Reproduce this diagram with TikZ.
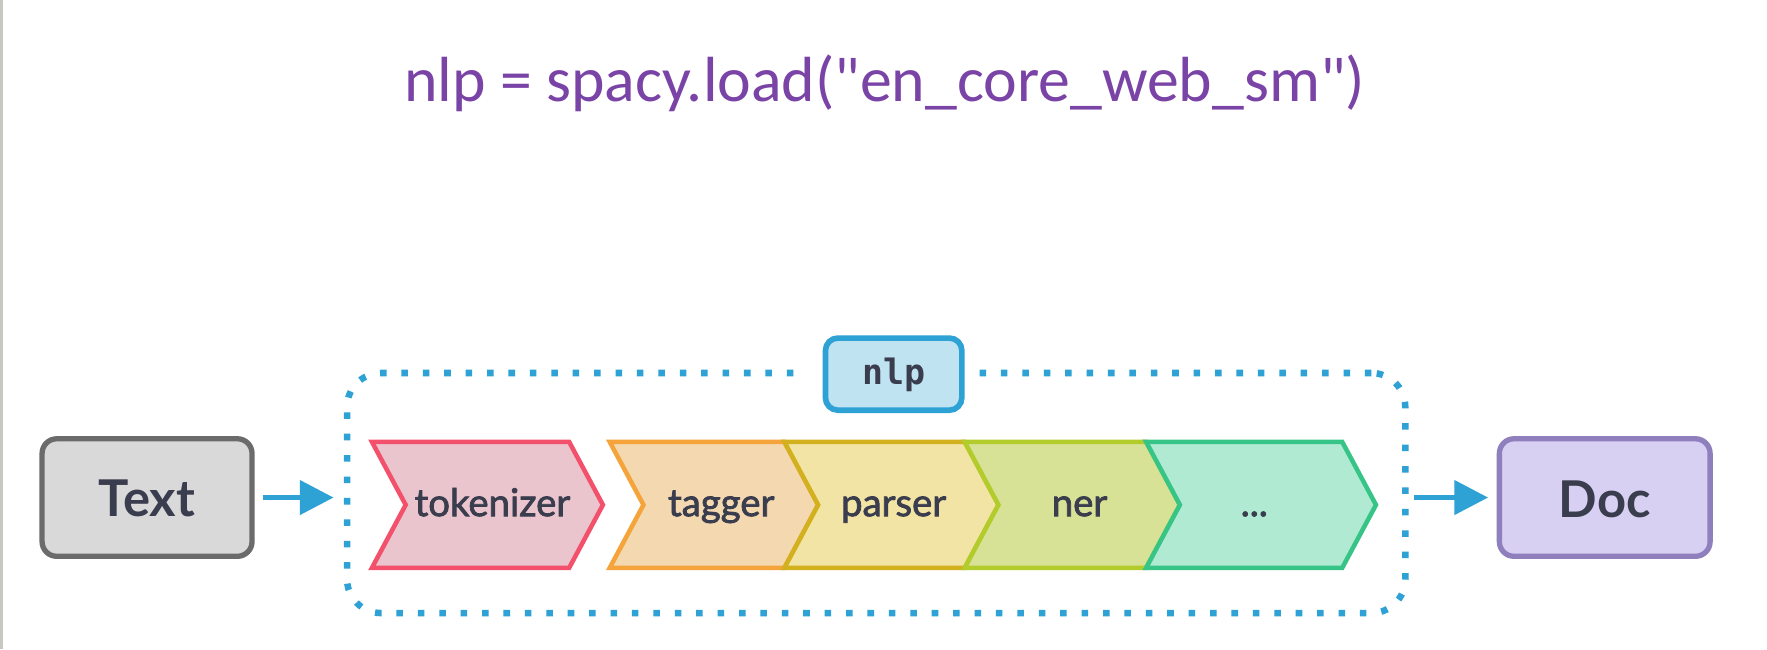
\documentclass[tikz,border=0pt]{standalone}
\usepackage{fontspec}
\setmainfont{Lato}
\newfontfamily\titlefont{Carlito}
\newfontfamily\codefont{DejaVu Sans Mono}
\newfontfamily\chevfont[FakeBold=2]{Lato}
\usetikzlibrary{arrows.meta}
\definecolor{ink}{HTML}{3A3D4D}
\definecolor{titlepurple}{HTML}{7A43A6}
\definecolor{flowblue}{HTML}{2EA1D5}
\definecolor{nlpfill}{HTML}{C0E3F2}
\definecolor{textfill}{HTML}{D9D9D9}
\definecolor{textdraw}{HTML}{6B6B6B}
\definecolor{docfill}{HTML}{D8D0F3}
\definecolor{docdraw}{HTML}{8F7FBD}
\definecolor{tokfill}{HTML}{EBC5CE}\definecolor{tokdraw}{HTML}{F2506B}
\definecolor{tagfill}{HTML}{F3D8B0}\definecolor{tagdraw}{HTML}{F4A43A}
\definecolor{parfill}{HTML}{F2E4A4}\definecolor{pardraw}{HTML}{D2B01E}
\definecolor{nerfill}{HTML}{D8E296}\definecolor{nerdraw}{HTML}{B2CC2C}
\definecolor{dotfill}{HTML}{B0EAD3}\definecolor{dotdraw}{HTML}{37C487}
\definecolor{edgegray}{HTML}{C8C8C0}
\newcommand\mychev[6]{%
  \filldraw[chevline, fill=#3, draw=#4] (#1,392) -- (#2,392) -- (#2+30,448) -- (#2,504) -- (#1,504) -- (#1+30,448) -- cycle;
  \coordinate (#5) at (#6,458);}
\tikzset{
  iobox/.style={rounded corners=13pt, line width=4.7pt, outer sep=0pt, inner sep=0pt,
    minimum height=104.3pt},
  iolabel/.style={anchor=base, inner sep=0pt, font=\fontsize{45}{45}\selectfont\bfseries, text=ink},
  chevline/.style={line width=4pt, line join=miter},
  chevlabel/.style={anchor=base, inner sep=0pt, font=\chevfont\fontsize{34}{34}\selectfont, text=ink},
  flow/.style={line width=4.7pt, draw=flowblue, -{Triangle[length=30pt,width=30pt]}},
  frame/.style={draw=flowblue, line width=5.8pt, dash pattern=on 5.8pt off 13.2pt,
    rounded corners=30pt, inner sep=0pt, outer sep=0pt, minimum width=939pt, minimum height=213pt},
}
\begin{document}
\begin{tikzpicture}[x=1pt,y=-1pt]
\useasboundingbox (0,0) rectangle (1568,576);
\fill[white] (0,0) rectangle (1568,576);
\fill[edgegray] (0,0) rectangle (2.5,576);
% title
\node[anchor=base, inner sep=0pt, font=\titlefont\fontsize{56.6}{56.6}\selectfont, text=titlepurple] (title) at (785,90) {nlp = spacy.load("en\_core\_web\_sm")};
% frame
\node[frame] (frame) at (777.5,437.5) {};
\fill[white] (714,315) rectangle (863,348);
\node[rounded corners=11pt, line width=5pt, draw=flowblue, fill=nlpfill, minimum width=121pt, minimum height=64pt, inner sep=0pt, outer sep=0pt] (nlpbox) at (793,332) {};
\node[anchor=base, inner sep=0pt, font=\codefont\bfseries\fontsize{31}{31}\selectfont, text=ink] (nlplabel) at (793,341) {nlp};
% chevrons
\mychev{330}{505}{tokfill}{tokdraw}{tok}{437}
\mychev{541}{696}{tagfill}{tagdraw}{tag}{640}
\mychev{696}{856}{parfill}{pardraw}{par}{793}
\mychev{856}{1017}{nerfill}{nerdraw}{ner}{958}
\mychev{1017}{1191}{dotfill}{dotdraw}{more}{1113}
\node[chevlabel] (toklabel) at (tok) {tokenizer};
\node[chevlabel] (taglabel) at (tag) {tagger};
\node[chevlabel] (parlabel) at (par) {parser};
\node[chevlabel] (nerlabel) at (ner) {ner};
\node[chevlabel] (morelabel) at (more) {...};
% io boxes
\node[iobox, draw=textdraw, fill=textfill, minimum width=186.3pt] (text) at (130.5,441.5) {};
\node[iolabel] (textlabel) at (130.5,458) {Text};
\node[iobox, draw=docdraw, fill=docfill, minimum width=187pt] (doc) at (1424,441.5) {};
\node[iolabel] (doclabel) at (1424,459) {Doc};
% arrows
\draw[flow, shorten <=9.4pt, shorten >=12pt] (text.east) -- (text.east -| frame.west);
\draw[flow, shorten <=8pt, shorten >=10pt] (frame.east |- doc.west) -- (doc.west);
\end{tikzpicture}
\end{document}
